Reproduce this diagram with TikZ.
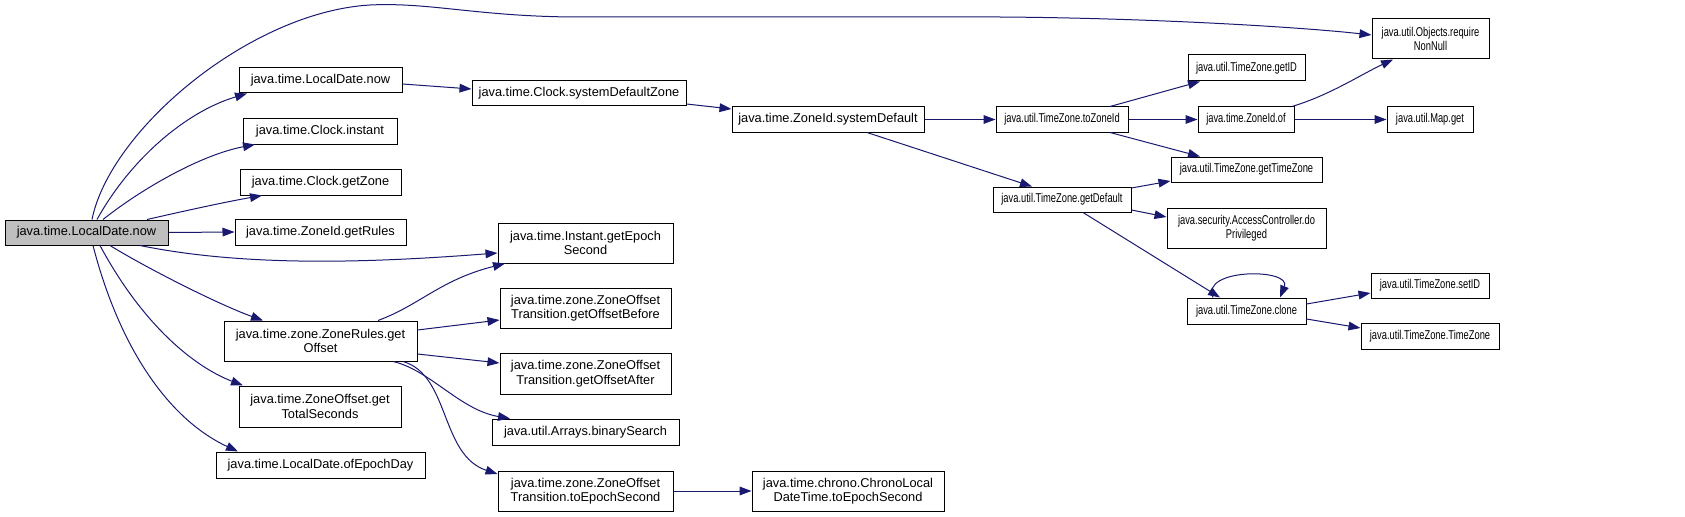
\documentclass[tikz,border=0pt]{standalone}
\usepackage{fontspec}
\setmainfont{Liberation Sans}
\newfontfamily\condfont{Liberation Sans}[FakeStretch=0.73]
\usetikzlibrary{arrows.meta}
\definecolor{edgecol}{HTML}{191970}
\definecolor{rootfill}{HTML}{BFBFBF}
\begin{document}
\begin{tikzpicture}[x=0.75pt,y=-0.75pt,
  box/.style 2 args={draw=black, line width=0.75pt, inner sep=0pt, align=center,
    font=\fontsize{9.6}{10.8}\selectfont, minimum width=#1*0.75pt, minimum height=#2*0.75pt},
  cbox/.style 2 args={box={#1}{#2}, font=\condfont\fontsize{9.6}{10.8}\selectfont},
  call/.style={draw=edgecol, line width=0.75pt, -{Triangle[length=9pt,width=6.5pt]}}]
\useasboundingbox (0,0) rectangle (1685,517);
% nodes
\node[box={163}{25}, fill=rootfill] (root) at (86.5,232.5) {java.time.LocalDate.now};
\node[box={163}{25}] (ldnow) at (320.5,80.5) {java.time.LocalDate.now};
\node[box={154}{26}] (cinstant) at (320,131) {java.time.Clock.instant};
\node[box={161}{26}] (cgetzone) at (320.5,182) {java.time.Clock.getZone};
\node[box={171}{26}] (getrules) at (320.5,232) {java.time.ZoneId.getRules};
\node[box={175}{40}] (getepoch) at (585.5,243) {java.time.Instant.getEpoch\\Second};
\node[box={193}{40}] (getoffset) at (320.5,341) {java.time.zone.ZoneRules.get\\Offset};
\node[box={162}{41}] (totalsec) at (320,406.5) {java.time.ZoneOffset.get\\TotalSeconds};
\node[box={209}{26}] (ofepochday) at (320.5,465) {java.time.LocalDate.ofEpochDay};
\node[box={214}{25}] (sysdefzone) at (579,93.5) {java.time.Clock.systemDefaultZone};
\node[box={171}{40}] (before) at (585.5,308) {java.time.zone.ZoneOffset\\Transition.getOffsetBefore};
\node[box={171}{41}] (after) at (585.5,373.5) {java.time.zone.ZoneOffset\\Transition.getOffsetAfter};
\node[box={187}{26}] (binsearch) at (585.5,432) {java.util.Arrays.binarySearch};
\node[box={175}{40}] (toepoch) at (585.5,491) {java.time.zone.ZoneOffset\\Transition.toEpochSecond};
\node[box={192}{25}] (sysdefault) at (828,119.5) {java.time.ZoneId.systemDefault};
\node[box={192}{40}] (chrono) at (848,491) {java.time.chrono.ChronoLocal\\DateTime.toEpochSecond};
\node[cbox={132}{25}] (tozoneid) at (1062,119.5) {java.util.TimeZone.toZoneId};
\node[cbox={138}{25}] (getdefault) at (1062,199.5) {java.util.TimeZone.getDefault};
\node[cbox={117}{26}] (getid) at (1246.5,68) {java.util.TimeZone.getID};
\node[cbox={96}{25}] (zoneidof) at (1246,119.5) {java.time.ZoneId.of};
\node[cbox={151}{25}] (gettimezone) at (1246.5,169.5) {java.util.TimeZone.getTimeZone};
\node[cbox={159}{40}] (doprivileged) at (1246.5,228) {java.security.AccessController.do\\Privileged};
\node[cbox={119}{26}] (clone) at (1246.5,311) {java.util.TimeZone.clone};
\node[cbox={117}{40}] (reqnn) at (1430.5,39) {java.util.Objects.require\\NonNull};
\node[cbox={86}{25}] (mapget) at (1430,119.5) {java.util.Map.get};
\node[cbox={118}{25}] (setid) at (1430,285.5) {java.util.TimeZone.setID};
\node[cbox={138}{26}] (tztz) at (1430,336) {java.util.TimeZone.TimeZone};
% edges from root
\draw[call] (92,0 |- root.north) .. controls (110,130) and (250,12) .. (370,5)
  .. controls (430,2) and (480,17) .. (580,17) -- (1000,17)
  .. controls (1150,18) and (1300,27) .. (reqnn.west |- 0,35);
\draw[call] (97,0 |- root.north) .. controls (130,160) and (185,112) .. (247,0 |- ldnow.south);
\draw[call] (103,0 |- root.north) .. controls (140,190) and (200,155) .. (255,0 |- cinstant.south);
\draw[call] (147,0 |- root.north) .. controls (180,212) and (220,203) .. (262,0 |- cgetzone.south);
\draw[call] (root.east) -- (getrules.west);
\draw[call] (140,0 |- root.south) .. controls (250,268) and (380,262) .. (getepoch.west |- 0,253);
\draw[call] (110,0 |- root.south) .. controls (150,270) and (220,305) .. (263,0 |- getoffset.north);
\draw[call] (100,0 |- root.south) .. controls (140,320) and (190,365) .. (243,0 |- totalsec.north);
\draw[call] (93,0 |- root.south) .. controls (120,350) and (170,420) .. (238,0 |- ofepochday.north);
% edges from getOffset
\draw[call] (378,0 |- getoffset.north) .. controls (420,305) and (440,280) .. (505,0 |- getepoch.south);
\draw[call] (getoffset.east |- 0,330) -- (before.west |- 0,320);
\draw[call] (getoffset.east |- 0,354) -- (after.west |- 0,363);
\draw[call] (393,0 |- getoffset.south) .. controls (430,370) and (460,410) .. (510,0 |- binsearch.north);
\draw[call] (403,0 |- getoffset.south) .. controls (450,375) and (440,455) .. (toepoch.west |- 0,474);
\draw[call] (toepoch.east) -- (chrono.west);
% upper chain
\draw[call] (ldnow.east |- 0,84) -- (sysdefzone.west |- 0,89);
\draw[call] (sysdefzone.east |- 0,104) -- (sysdefault.west |- 0,109);
\draw[call] (sysdefault.east) -- (tozoneid.west);
\draw[call] (867,0 |- sysdefault.south) -- (1032,0 |- getdefault.north);
\draw[call] (1110,0 |- tozoneid.north) -- (1200,0 |- getid.south);
\draw[call] (tozoneid.east) -- (zoneidof.west);
\draw[call] (1110,0 |- tozoneid.south) -- (1200,0 |- gettimezone.north);
\draw[call] (1292,0 |- zoneidof.north) .. controls (1330,95) and (1360,75) .. (1393,0 |- reqnn.south);
\draw[call] (zoneidof.east) -- (mapget.west);
\draw[call] (getdefault.east |- 0,188) -- (gettimezone.west |- 0,181);
\draw[call] (getdefault.east |- 0,210) -- (doprivileged.west |- 0,217);
\draw[call] (1083,0 |- getdefault.south) -- (1220,0 |- clone.north);
\draw[call] (1213,0 |- clone.north) .. controls (1200,268) and (1292,268) .. (1280,0 |- clone.north);
\draw[call] (clone.east |- 0,304) -- (setid.west |- 0,293);
\draw[call] (clone.east |- 0,319) -- (tztz.west |- 0,328);
\end{tikzpicture}
\end{document}
